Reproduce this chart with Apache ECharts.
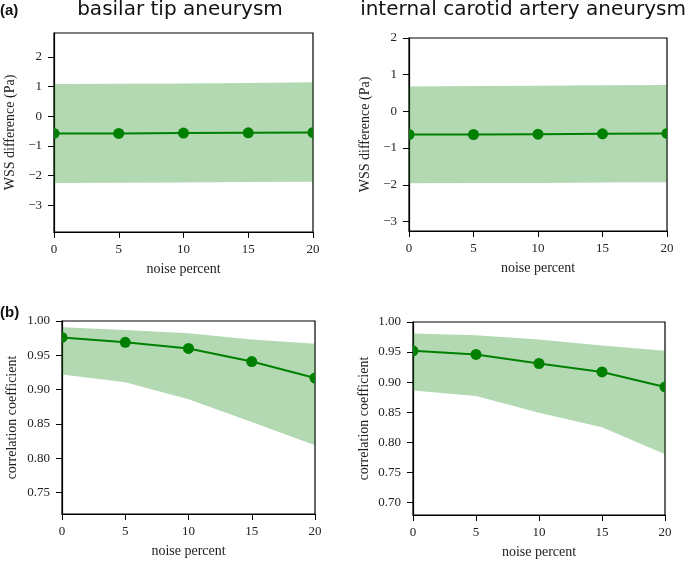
<!DOCTYPE html>
<html><head><meta charset="utf-8">
<script src="https://cdn.jsdelivr.net/npm/echarts@6/dist/echarts.min.js"></script>
<style>html,body{margin:0;padding:0;background:#fff}#c{width:685px;height:561px}</style>
</head><body><div id="c"></div>
<script>
const xValues = [0, 5, 10, 15, 20];
const xTicks = [0, 5, 10, 15, 20];
const basilarWssMean  = [-0.58, -0.58, -0.57, -0.56, -0.55];
const basilarWssUpper = [1.08, 1.09, 1.10, 1.12, 1.14];
const basilarWssLower = [-2.25, -2.24, -2.23, -2.22, -2.21];
const carotidWssMean  = [-0.63, -0.63, -0.62, -0.61, -0.60];
const carotidWssUpper = [0.68, 0.69, 0.70, 0.71, 0.72];
const carotidWssLower = [-1.96, -1.95, -1.95, -1.94, -1.93];
const basilarCorrMean  = [0.976, 0.969, 0.960, 0.941, 0.917];
const basilarCorrUpper = [0.991, 0.987, 0.982, 0.973, 0.967];
const basilarCorrLower = [0.922, 0.911, 0.886, 0.853, 0.819];
const carotidCorrMean  = [0.952, 0.946, 0.931, 0.917, 0.892];
const carotidCorrUpper = [0.981, 0.978, 0.971, 0.961, 0.952];
const carotidCorrLower = [0.886, 0.877, 0.849, 0.825, 0.780];
const wssTicks = [-3, -2, -1, 0, 1, 2];
const corrTicksA = [0.75, 0.80, 0.85, 0.90, 0.95, 1.00];
const corrTicksB = [0.70, 0.75, 0.80, 0.85, 0.90, 0.95, 1.00];
const panelTitles = ['basilar tip aneurysm', 'internal carotid artery aneurysm'];
const panelLetters = ['(a)', '(b)'];
const xName = 'noise percent';
const yNames = ['WSS difference (Pa)', 'correlation coefficient'];

const chart = echarts.init(document.getElementById('c'));
const serif = 'Liberation Serif';
const txt = '#222';
const green = '#008000';
const band = 'rgba(0,128,0,0.3)';

const grids = [
  {left: 54, top: 33, width: 259, height: 199},
  {left: 409, top: 38, width: 258, height: 193},
  {left: 62, top: 321, width: 253, height: 193},
  {left: 413, top: 322, width: 252, height: 193}
];
const yCfg = [
  {min: -3.9, max: 2.8, ticks: wssTicks, fmt: v => v < 0 ? '\u2212' + Math.abs(v) : String(v), name: yNames[0], gap: 37},
  {min: -3.26, max: 2, ticks: wssTicks, fmt: v => v < 0 ? '\u2212' + Math.abs(v) : String(v), name: yNames[0], gap: 37},
  {min: 0.719, max: 1.0, ticks: corrTicksA, fmt: v => v.toFixed(2), name: yNames[1], gap: 43},
  {min: 0.679, max: 1.0, ticks: corrTicksB, fmt: v => v.toFixed(2), name: yNames[1], gap: 42}
];
const data = [
  [basilarWssMean, basilarWssLower, basilarWssUpper],
  [carotidWssMean, carotidWssLower, carotidWssUpper],
  [basilarCorrMean, basilarCorrLower, basilarCorrUpper],
  [carotidCorrMean, carotidCorrLower, carotidCorrUpper]
];

const axisLine = {show: true, onZero: false, lineStyle: {color: '#000', width: 1.2}};
const xAxes = grids.map((g, i) => ({
  type: 'value', gridIndex: i, min: 0, max: 20, interval: 5,
  axisLine, axisTick: {show: true, length: 6, lineStyle: {color: '#000', width: 1}},
  axisLabel: {margin: 11, fontFamily: serif, fontSize: 13, color: txt, showMinLabel: true, showMaxLabel: true},
  splitLine: {show: false},
  name: xName, nameLocation: 'middle', nameGap: 30,
  nameTextStyle: {fontFamily: serif, fontSize: 14, color: txt}
}));
const yAxes = yCfg.map((c, i) => ({
  type: 'value', gridIndex: i, min: c.min, max: c.max,
  axisLine,
  axisTick: {show: true, length: 6, customValues: c.ticks, lineStyle: {color: '#000', width: 1}},
  axisLabel: {margin: 12, fontFamily: serif, fontSize: 13, color: txt, customValues: c.ticks, formatter: c.fmt},
  splitLine: {show: false},
  name: c.name, nameLocation: 'middle', nameGap: c.gap,
  nameTextStyle: {fontFamily: serif, fontSize: 14, color: txt}
}));

const series = [];
data.forEach((d, i) => {
  const [mean, lower, upper] = d;
  series.push({
    type: 'custom', xAxisIndex: i, yAxisIndex: i, z: 1, silent: true,
    data: xValues.map((x, k) => [x, lower[k], upper[k]]),
    encode: {x: 0, y: [1, 2]},
    renderItem: function (params, api) {
      if (params.dataIndexInside !== 0) return null;
      const n = params.dataInsideLength;
      const top = [], bot = [];
      for (let k = 0; k < n; k++) {
        const x = api.value(0, k);
        top.push(api.coord([x, api.value(2, k)]));
        bot.push(api.coord([x, api.value(1, k)]));
      }
      return {type: 'polygon', shape: {points: top.concat(bot.reverse())}, style: {fill: band, stroke: null}};
    }
  });
  series.push({
    type: 'line', xAxisIndex: i, yAxisIndex: i, z: 3,
    data: xValues.map((x, k) => [x, mean[k]]),
    symbol: 'none',
    lineStyle: {color: green, width: 2},
    clip: true, animation: false
  });
  series.push({
    type: 'custom', xAxisIndex: i, yAxisIndex: i, z: 4, silent: true,
    data: xValues.map((x, k) => [x, mean[k]]),
    encode: {x: 0, y: 1},
    renderItem: function (params, api) {
      const p = api.coord([api.value(0), api.value(1)]);
      const cs = params.coordSys;
      return {
        type: 'circle',
        shape: {cx: p[0], cy: p[1], r: 5.5},
        style: {fill: green, stroke: null},
        clipPath: {type: 'rect', shape: {x: cs.x, y: cs.y, width: cs.width, height: cs.height}}
      };
    }
  });
});

const graphics = [
  {type: 'text', x: 180, y: 10, style: {text: panelTitles[0], font: '20px "DejaVu Sans"', fill: '#111', textAlign: 'center', textVerticalAlign: 'middle'}},
  {type: 'text', x: 523, y: 10, style: {text: panelTitles[1], font: '20px "DejaVu Sans"', fill: '#111', textAlign: 'center', textVerticalAlign: 'middle'}},
  {type: 'text', x: 0, y: 11, style: {text: panelLetters[0], font: 'bold 15px "Liberation Sans"', fill: '#111', textAlign: 'left', textVerticalAlign: 'middle'}},
  {type: 'text', x: 0, y: 313, style: {text: panelLetters[1], font: 'bold 15px "Liberation Sans"', fill: '#111', textAlign: 'left', textVerticalAlign: 'middle'}}
];

chart.setOption({
  animation: false,
  backgroundColor: '#fff',
  grid: grids.map(g => Object.assign({show: true, borderColor: '#000', borderWidth: 1.2, backgroundColor: 'transparent', containLabel: false}, g)),
  xAxis: xAxes,
  yAxis: yAxes,
  series: series,
  graphic: graphics
});
</script>
</body></html>
